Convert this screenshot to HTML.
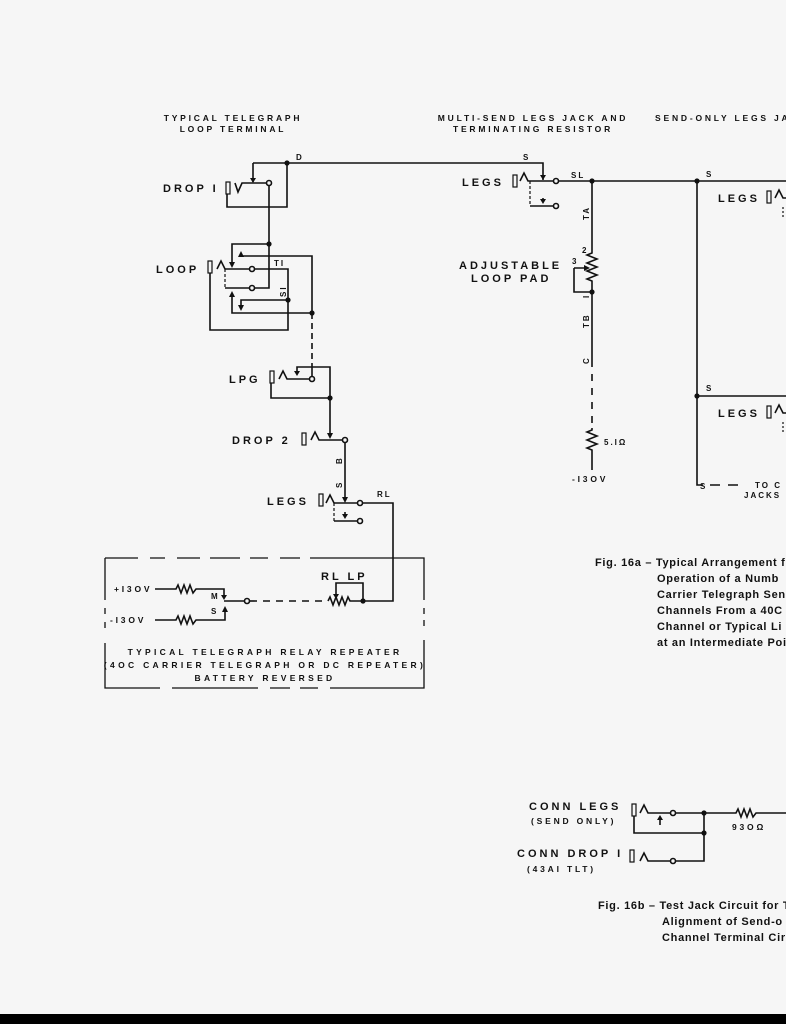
<!DOCTYPE html>
<html><head><meta charset="utf-8"><style>
html,body{margin:0;padding:0;background:#f6f6f6;}
svg{display:block}
text{font-family:"Liberation Sans",sans-serif;font-weight:bold;fill:#111}
.l{font-size:11px;letter-spacing:3px}
.s{font-size:8px;letter-spacing:2px}
.t{font-size:8.5px;letter-spacing:2.8px}
.r{font-size:8.5px;letter-spacing:3.3px}
.c{font-size:11px;letter-spacing:0.7px}
</style></head><body>
<svg width="786" height="1024" viewBox="0 0 786 1024" xmlns="http://www.w3.org/2000/svg">
<rect width="786" height="1024" fill="#f6f6f6"/>
<rect x="0" y="1014" width="786" height="10" fill="#000"/>
<g stroke="#111" stroke-width="1.6" fill="none">
<path d="M253,163 H543 V180"/>
<path d="M253,163 V182"/><path d="M250,178 h6 l-3,5z" fill="#111" stroke="none"/>
<path d="M540,175 h6 l-3,5z" fill="#111" stroke="none"/>
<path d="M287,163 V207 H227 V194"/>
<rect x="226" y="182" width="4" height="12" stroke-width="1.2"/>
<path d="M235,183 l3,9 l4,-9 H266"/>
<circle cx="269" cy="183" r="2.5" fill="#f6f6f6"/>
<path d="M269,186 V288 H255"/>
<path d="M269,244 H232 V264"/><path d="M229,262 h6 l-3,6z" fill="#111" stroke="none"/>
<rect x="208" y="261" width="4" height="12" stroke-width="1.2"/>
<path d="M217,269 l4,-8 l4,8 H250"/>
<circle cx="252" cy="269" r="2.5" fill="#f6f6f6"/>
<path d="M255,269 H288 V330 H210 V273"/>
<path d="M225,269 V288" stroke-dasharray="3,2" stroke-width="1.2"/>
<path d="M225,288 H250"/><circle cx="252" cy="288" r="2.5" fill="#f6f6f6"/>
<path d="M241,256 H312 V313 H232 V296"/><path d="M238,257 h6 l-3,-6z" fill="#111" stroke="none"/>
<path d="M229,297 h6 l-3,-6z" fill="#111" stroke="none"/>
<path d="M288,300 H241 V306"/><path d="M238,305 h6 l-3,6z" fill="#111" stroke="none"/>
<path d="M312,313 V367" stroke-dasharray="6,4"/>
<rect x="270" y="371" width="4" height="12" stroke-width="1.2"/>
<path d="M279,379 l4,-8 l4,8 H309"/>
<circle cx="312" cy="379" r="2.5" fill="#f6f6f6"/>
<path d="M312,367 V376"/>
<path d="M297,372 V367 H330 V434"/><path d="M294,371 h6 l-3,5z" fill="#111" stroke="none"/>
<path d="M271,383 V398 H330"/>
<path d="M327,433 h6 l-3,6z" fill="#111" stroke="none"/>
<rect x="302" y="433" width="4" height="12" stroke-width="1.2"/>
<path d="M311,440 l4,-8 l4,8 H342"/>
<circle cx="345" cy="440" r="2.5" fill="#f6f6f6"/>
<path d="M345,443 V497"/><path d="M342,497 h6 l-3,6z" fill="#111" stroke="none"/>
<rect x="319" y="494" width="4" height="12" stroke-width="1.2"/>
<path d="M326,503 l4,-8 l4,8 H357"/>
<circle cx="360" cy="503" r="2.5" fill="#f6f6f6"/>
<path d="M363,503 H393 V601 H363"/>
<path d="M334,503 V521" stroke-dasharray="3,2" stroke-width="1.2"/>
<path d="M334,521 H357"/><circle cx="360" cy="521" r="2.5" fill="#f6f6f6"/>
<path d="M345,512 V516"/><path d="M342,514 h6 l-3,5z" fill="#111" stroke="none"/>
<path d="M105,558 H138 M150,558 H165 M177,558 H200 M210,558 H240 M250,558 H268 M280,558 H300 M310,558 H424 V600 M424,608 V614 M424,620 V626 M424,640 V688 H330 M318,688 H300 M290,688 H270 M258,688 H172 M105,558 V600 M105,608 V614 M105,622 V628 M105,643 V688 H160" stroke-width="1.3"/>
<path d="M155,589 H176 l2,-4 l3,8 l3,-8 l3,8 l3,-8 l3,8 l3,-4 H224 V596"/>
<path d="M221,595 h6 l-3,5z" fill="#111" stroke="none"/>
<path d="M155,620 H176 l2,-4 l3,8 l3,-8 l3,8 l3,-8 l3,8 l3,-4 H225 V612"/>
<path d="M222,612 h6 l-3,-6z" fill="#111" stroke="none"/>
<path d="M224,601 H244"/><circle cx="247" cy="601" r="2.5" fill="#f6f6f6"/>
<path d="M250,601 H328" stroke-dasharray="7,6"/>
<path d="M328,601 l2,-4 l3,8 l3,-8 l3,8 l3,-8 l3,8 l3,-8 l2,4 H363"/>
<path d="M336,596 V583 H363 V601"/><path d="M333,594 h6 l-3,5z" fill="#111" stroke="none"/>
<rect x="513" y="175" width="4" height="12" stroke-width="1.2"/>
<path d="M520,181 l4,-8 l4,8 H553"/>
<circle cx="556" cy="181" r="2.5" fill="#f6f6f6"/>
<path d="M559,181 H786"/>
<path d="M530,181 V206" stroke-dasharray="3,2" stroke-width="1.2"/>
<path d="M530,206 H553"/><circle cx="556" cy="206" r="2.5" fill="#f6f6f6"/>
<path d="M543,198 V201"/><path d="M540,199 h6 l-3,5z" fill="#111" stroke="none"/>
<path d="M592,181 V253 l-5,2 l10,4 l-10,4 l10,4 l-10,4 l10,4 l-10,4 l5,2 V360"/>
<path d="M574,268 V292 H592 M574,268 H584"/><path d="M584,265 v6 l6,-3z" fill="#111" stroke="none"/>
<path d="M592,360 V428" stroke-dasharray="7,7"/>
<path d="M592,428 V430 l-5,2 l10,4 l-10,4 l10,4 l-10,4 l5,2 V470"/>
<path d="M697,181 V485 H703 M710,485 H720 M728,485 H738"/>
<path d="M697,396 H786"/>
<rect x="767" y="191" width="4" height="12" stroke-width="1.2"/>
<path d="M775,198 l4,-8 l4,8 H786"/>
<rect x="767" y="406" width="4" height="12" stroke-width="1.2"/>
<path d="M775,413 l4,-8 l4,8 H786"/>
<path d="M783,207 V218 M783,422 V432" stroke-dasharray="2,2" stroke-width="1.2"/>
<rect x="632" y="804" width="4" height="12" stroke-width="1.2"/>
<path d="M640,813 l4,-8 l4,8 H670"/><circle cx="673" cy="813" r="2.5" fill="#f6f6f6"/>
<path d="M676,813 H736 l2,-4 l3,8 l3,-8 l3,8 l3,-8 l3,8 l3,-4 H786"/>
<path d="M634,816 V833 H704 M704,813 V861 H676"/>
<rect x="630" y="850" width="4" height="12" stroke-width="1.2"/>
<path d="M640,861 l4,-8 l4,8 H670"/><circle cx="673" cy="861" r="2.5" fill="#f6f6f6"/>
<path d="M660,819 V825"/><path d="M657,820 h6 l-3,-5z" fill="#111" stroke="none"/>
</g>
<g fill="#111">
<circle cx="287" cy="163" r="2.6"/><circle cx="269" cy="244" r="2.6"/><circle cx="288" cy="300" r="2.6"/><circle cx="312" cy="313" r="2.6"/>
<circle cx="330" cy="398" r="2.6"/><circle cx="363" cy="601" r="2.6"/><circle cx="592" cy="181" r="2.6"/><circle cx="697" cy="181" r="2.6"/>
<circle cx="592" cy="292" r="2.6"/><circle cx="697" cy="396" r="2.6"/><circle cx="704" cy="813" r="2.6"/><circle cx="704" cy="833" r="2.6"/>
</g>
<text class="t" x="233" y="121" text-anchor="middle">TYPICAL TELEGRAPH</text>
<text class="t" x="233" y="132" text-anchor="middle">LOOP TERMINAL</text>
<text class="t" x="533" y="121" text-anchor="middle">MULTI-SEND LEGS JACK AND</text>
<text class="t" x="533" y="132" text-anchor="middle">TERMINATING RESISTOR</text>
<text class="t" x="655" y="121" letter-spacing="3.4">SEND-ONLY LEGS JA</text>
<text class="s" x="296" y="160" letter-spacing="0">D</text>
<text class="s" x="523" y="160" letter-spacing="0">S</text>
<text class="s" x="571" y="178">SL</text>
<text class="s" x="706" y="177">S</text>
<text class="s" x="706" y="391">S</text>
<text class="s" x="700" y="489">S</text>
<text class="s" x="755" y="488">TO C</text>
<text class="s" x="744" y="498">JACKS</text>
<text class="l" x="163" y="192">DROP I</text>
<text class="l" x="156" y="273">LOOP</text>
<text class="s" x="274" y="266">TI</text>
<text class="s" transform="translate(286,297) rotate(-90)">SI</text>
<text class="l" x="229" y="383">LPG</text>
<text class="l" x="232" y="444">DROP 2</text>
<text class="s" transform="translate(342,464) rotate(-90)">B</text>
<text class="s" transform="translate(342,488) rotate(-90)">S</text>
<text class="l" x="267" y="505">LEGS</text>
<text class="s" x="377" y="497">RL</text>
<text class="l" x="462" y="186">LEGS</text>
<text class="l" x="718" y="202">LEGS</text>
<text class="l" x="718" y="417">LEGS</text>
<text class="s" transform="translate(589,220) rotate(-90)">TA</text>
<text class="s" x="582" y="253">2</text>
<text class="s" x="572" y="264">3</text>
<text class="s" transform="translate(589,298) rotate(-90)">I</text>
<text class="s" transform="translate(589,328) rotate(-90)">TB</text>
<text class="s" transform="translate(589,364) rotate(-90)">C</text>
<text class="l" x="459" y="269">ADJUSTABLE</text>
<text class="l" x="471" y="282">LOOP PAD</text>
<text class="s" x="604" y="445" letter-spacing="1">5.IΩ</text>
<text class="t" x="572" y="482">-I3OV</text>
<text class="l" x="321" y="580" letter-spacing="1">RL LP</text>
<text class="t" x="114" y="592">+I3OV</text>
<text class="t" x="110" y="623">-I3OV</text>
<text class="s" x="211" y="599" font-size="7">M</text>
<text class="s" x="211" y="614" font-size="7">S</text>
<text class="r" x="265" y="655" text-anchor="middle">TYPICAL TELEGRAPH RELAY REPEATER</text>
<text class="r" x="265" y="668" text-anchor="middle">(4OC CARRIER TELEGRAPH OR DC REPEATER)</text>
<text class="r" x="265" y="681" text-anchor="middle">BATTERY REVERSED</text>
<text class="c" x="595" y="566">Fig.  16a – Typical Arrangement f</text>
<text class="c" x="657" y="582">Operation  of  a  Numb</text>
<text class="c" x="657" y="598">Carrier Telegraph Send</text>
<text class="c" x="657" y="614">Channels  From  a  40C</text>
<text class="c" x="657" y="630">Channel  or  Typical  Li</text>
<text class="c" x="657" y="646">at an Intermediate Poi</text>
<text class="l" x="529" y="810">CONN LEGS</text>
<text class="t" x="531" y="824">(SEND ONLY)</text>
<text class="l" x="517" y="857">CONN DROP I</text>
<text class="t" x="527" y="872">(43AI TLT)</text>
<text class="t" x="732" y="830">93OΩ</text>
<text class="c" x="598" y="909">Fig.  16b – Test Jack Circuit for T</text>
<text class="c" x="662" y="925">Alignment of Send-o</text>
<text class="c" x="662" y="941">Channel Terminal Cir</text>
</svg>
</body></html>
